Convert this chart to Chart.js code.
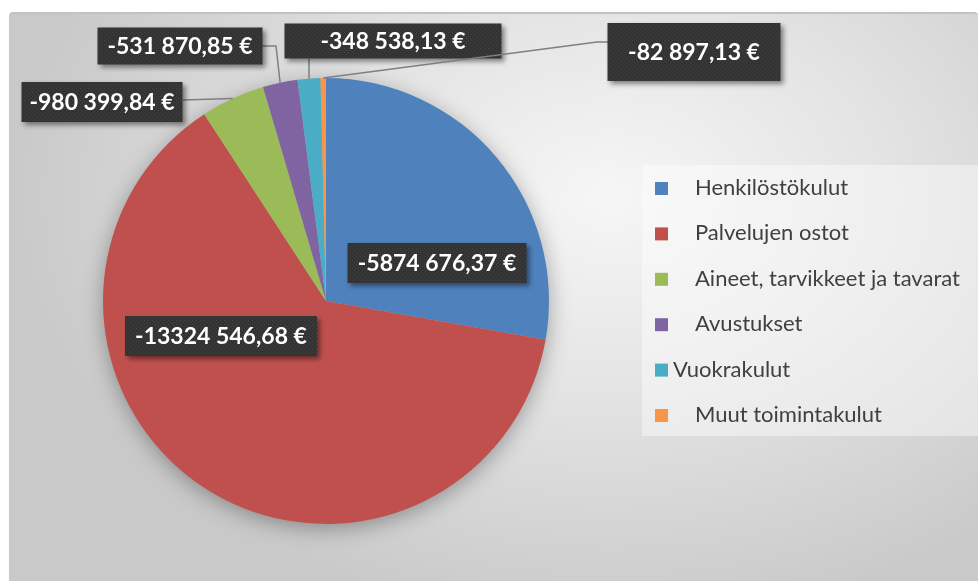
<!DOCTYPE html>
<html>
<head>
<meta charset="utf-8">
<script src="https://cdn.jsdelivr.net/npm/chart.js@4.4.1/dist/chart.umd.min.js"></script>
<style>
    html, body { margin: 0; padding: 0; background: #fff; }
    #wrap { position: relative; width: 980px; height: 581px; overflow: hidden; }
    #panel {
        position: absolute; left: 9px; top: 12px; right: 2px; bottom: -4px;
        border-top: 2px solid #c2c2c2; border-radius: 4px 4px 0 0;
        background: radial-gradient(ellipse 62% 75% at 62% 32%, #f6f6f6 0%, #e4e4e4 45%, #c9c9c9 100%);
    }
    canvas { position: absolute; left: 0; top: 0; }
</style>
</head>
<body>
<div id="wrap">
    <div id="panel"></div>
    <canvas id="chart" width="980" height="581"></canvas>
</div>
<script>
const categories = ['Henkilöstökulut', 'Palvelujen ostot', 'Aineet, tarvikkeet ja tavarat', 'Avustukset', 'Vuokrakulut', 'Muut toimintakulut'];
const amounts = [-5874676.37, -13324546.68, -980399.84, -531870.85, -348538.13, -82897.13];
const colors = ['#4f81bd', '#c0504d', '#9bbb59', '#8064a2', '#4bacc6', '#f79646'];

// label boxes (centre, size) and leader elbows, in canvas pixels
const labelBoxes = [
    { x: 437, y: 263, w: 179, h: 40, line: null },
    { x: 221, y: 336, w: 192, h: 40, line: null },
    { x: 102, y: 102, w: 161, h: 40, line: [[183, 100]] },
    { x: 180, y: 46, w: 165, h: 37, line: [[262, 46], [276, 46]] },
    { x: 393, y: 41, w: 217, h: 35, line: [[309, 59]] },
    { x: 694, y: 52, w: 173, h: 58, line: [[608, 42], [597, 42]] },
];
const legendIndent = [true, true, true, true, false, true];

function formatEuro(v) {
    const sign = v < 0 ? '-' : '';
    const [intPart, dec] = Math.abs(v).toFixed(2).split('.');
    const head = intPart.length > 3 ? intPart.slice(0, -3) + ' ' + intPart.slice(-3) : intPart;
    return sign + head + ',' + dec + ' €';
}

function dotPattern(ctx) {
    const c = document.createElement('canvas');
    c.width = 4; c.height = 4;
    const p = c.getContext('2d');
    p.fillStyle = '#333333';
    p.fillRect(0, 0, 4, 4);
    p.fillStyle = '#444444';
    p.fillRect(0, 0, 1, 1);
    p.fillRect(2, 2, 1, 1);
    return ctx.createPattern(c, 'repeat');
}

const pieShadow = {
    id: 'pieShadow',
    beforeDatasetsDraw(chart) {
        const arc = chart.getDatasetMeta(0).data[0];
        if (!arc) return;
        const ctx = chart.ctx;
        ctx.save();
        ctx.shadowColor = 'rgba(0,0,0,0.35)';
        ctx.shadowBlur = 22;
        ctx.shadowOffsetY = 5;
        ctx.fillStyle = '#b0b0b0';
        ctx.beginPath();
        ctx.arc(arc.x, arc.y, arc.outerRadius - 1, 0, Math.PI * 2);
        ctx.fill();
        ctx.restore();
    },
};

const boxLabels = {
    id: 'boxLabels',
    afterDatasetsDraw(chart) {
        const ctx = chart.ctx;
        const pattern = dotPattern(ctx);
        chart.getDatasetMeta(0).data.forEach((arc, i) => {
            const box = labelBoxes[i];
            if (box.line) {
                const mid = (arc.startAngle + arc.endAngle) / 2;
                const ex = arc.x + Math.cos(mid) * arc.outerRadius;
                const ey = arc.y + Math.sin(mid) * arc.outerRadius;
                ctx.save();
                ctx.strokeStyle = '#7f7f7f';
                ctx.lineWidth = 1.5;
                ctx.beginPath();
                ctx.moveTo(box.line[0][0], box.line[0][1]);
                box.line.slice(1).forEach((pt) => ctx.lineTo(pt[0], pt[1]));
                ctx.lineTo(ex, ey);
                ctx.stroke();
                ctx.restore();
            }
            ctx.save();
            ctx.shadowColor = 'rgba(0,0,0,0.45)';
            ctx.shadowBlur = 5;
            ctx.shadowOffsetX = 3;
            ctx.shadowOffsetY = 3;
            ctx.fillStyle = pattern;
            ctx.fillRect(box.x - box.w / 2, box.y - box.h / 2, box.w, box.h);
            ctx.restore();
            ctx.save();
            ctx.fillStyle = '#ffffff';
            ctx.font = 'bold 23px Lato, "Open Sans", sans-serif';
            ctx.textAlign = 'center';
            ctx.textBaseline = 'middle';
            ctx.fillText(formatEuro(amounts[i]), box.x, box.y + 1);
            ctx.restore();
        });
    },
};

const sideLegend = {
    id: 'sideLegend',
    afterDraw(chart) {
        const ctx = chart.ctx;
        ctx.save();
        ctx.fillStyle = 'rgba(255,255,255,0.42)';
        ctx.fillRect(642, 165, 336, 271);
        ctx.font = '22px Lato, "Open Sans", sans-serif';
        ctx.textBaseline = 'middle';
        categories.forEach((name, i) => {
            const cy = 188 + i * 45.4;
            ctx.fillStyle = colors[i];
            ctx.fillRect(655, cy - 6, 13, 13);
            ctx.fillStyle = '#404040';
            ctx.fillText(name, legendIndent[i] ? 695 : 673, cy);
        });
        ctx.restore();
    },
};

new Chart(document.getElementById('chart'), {
    type: 'pie',
    data: {
        labels: categories,
        datasets: [{
            data: amounts.map((v) => Math.abs(v)),
            backgroundColor: colors,
            borderWidth: 0,
            hoverOffset: 0,
        }],
    },
    options: {
        responsive: false,
        animation: false,
        layout: { padding: { left: 103, right: 431, top: 78, bottom: 57 } },
        plugins: {
            legend: { display: false },
            tooltip: { enabled: false },
        },
    },
    plugins: [pieShadow, boxLabels, sideLegend],
});
</script>
</body>
</html>
